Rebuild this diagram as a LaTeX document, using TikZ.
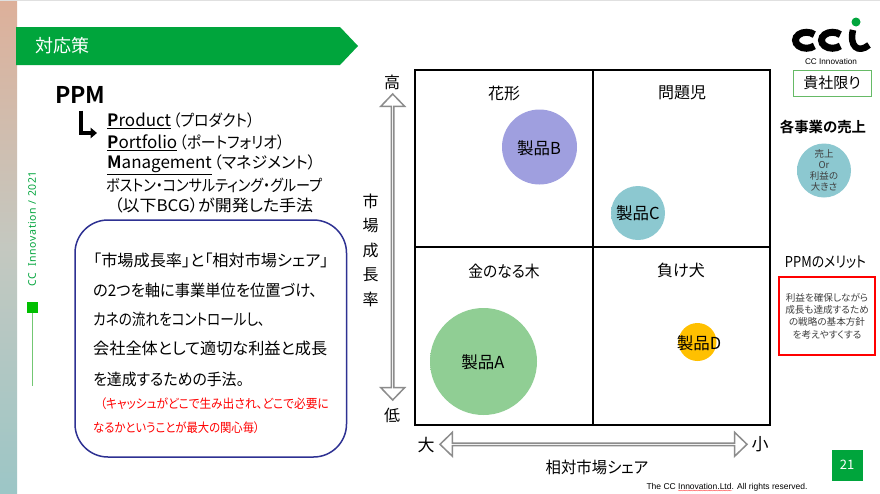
\documentclass[tikz,border=0pt]{standalone}
\usepackage{fontspec}
\setmainfont[RawFeature=+palt,BoldFont={Noto Sans CJK JP Bold}]{Noto Sans CJK JP}
\newfontfamily\footfont{Liberation Sans}
\newfontfamily\sidefont[LetterSpace=6]{Noto Sans}
\usetikzlibrary{shapes.arrows,arrows.meta,decorations.pathmorphing}

\definecolor{ccgreen}{HTML}{00A53C}
\definecolor{ccgray}{HTML}{8C8C8C}
\definecolor{ccnavy}{HTML}{2E3192}
\definecolor{bluishpurple}{HTML}{9F9FDF}
\definecolor{tealblob}{HTML}{8CC8D0}
\definecolor{greenblob}{HTML}{90CE94}
\definecolor{amberblob}{HTML}{FFC000}
\definecolor{strippeach}{HTML}{DDB09A}
\definecolor{stripgray}{HTML}{C4C8C0}
\definecolor{stripteal}{HTML}{9CC6C6}
\colorlet{blobcol}{white}
\pgfdeclareradialshading[blobcol]{softdisc}{\pgfpointorigin}{%
  color(0bp)=(blobcol); color(44bp)=(blobcol); color(49bp)=(white); color(50bp)=(white)}
\newcommand{\squeezed}[2]{\scalebox{#1}[1]{#2}}
\newcommand{\acro}[2]{\underline{\fontsize{17pt}{17pt}\selectfont\textbf{#1}#2}}

\tikzset{
  jp/.style={font=\fontsize{#1}{#1}\selectfont, inner sep=0pt},
  jp/.default=16pt,
  blob/.style={circle, draw=none, inner sep=0pt, /utils/exec={\colorlet{blobcol}{#1}}, shading=softdisc},
  blobtext/.style={font=\fontsize{16.5pt}{16.5pt}\selectfont, inner sep=0pt},
  quadrant/.style={jp=16pt},
  axisarrow/.style={double arrow, draw=ccgray, fill=white, line width=1.5pt, inner sep=0pt,
    minimum width=24pt, double arrow head extend=6.5pt, double arrow head indent=0pt,
    double arrow tip angle=88},
  textline/.style={jp=16pt, anchor=west},
  redline/.style={jp=12.6pt, anchor=west, text=red},
}

\begin{document}
\begin{tikzpicture}[x=1pt,y=-1pt]
  \useasboundingbox (0,0) rectangle (880,493);
  \fill[white] (0,0) rectangle (880,493);
  \fill[black!12] (0,0) rectangle (880,1);

  % side strip
  \shade[top color=strippeach, bottom color=stripteal, middle color=stripgray]
    (0,1) rectangle (17,493);

  % banner
  \fill[ccgreen] (16,27) -- (340,27) -- (358,46) -- (340,65) -- (16,65) -- cycle;
  \node[jp=18pt, text=white, anchor=west] (title) at (35,46) {対応策};

  % side mark
  \node[rotate=90, inner sep=0pt, text=ccgreen, font=\sidefont\fontsize{10.5pt}{10.5pt}\selectfont]
    (sidelabel) at (32,229) {CC\ \ Innovation / 2021};
  \node[fill=green!75!black, minimum size=11pt, inner sep=0pt] (sidebox) at (32,307.5) {};
  \coordinate (sideend) at (32,386);
  \draw[green!60!black!55, line width=1pt] (sidebox) -- (sideend);

  % PPM
  \node[jp=22pt, anchor=west, font=\bfseries\fontsize{23pt}{23pt}\selectfont] (ppm) at (55,95) {PPM};
  \coordinate (elbowtop) at (81,110.7);
  \coordinate (elbowtip) at (97,133);
  \draw[line width=4.5pt, -{Triangle[length=6.5pt,width=10.5pt]}] (elbowtop) |- (elbowtip);
  \node[textline] (product) at (107,121) {\acro{P}{roduct}\hspace{2pt}\squeezed{.93}{（プロダクト）}};
  \node[textline] (portfolio) at (107,143) {\acro{P}{ortfolio}\hspace{2pt}\squeezed{.93}{（ポートフォリオ）}};
  \node[textline] (management) at (107,165) {\acro{M}{anagement}\hspace{2pt}（マネジメント）};
  \node[textline] (bcgone) at (106,185) {\squeezed{.88}{ボストン・コンサルティング・グループ}};
  \node[textline] (bcgtwo) at (114,205) {\squeezed{1.06}{（以下BCG）が開発した手法}};

  % explanation box
  \draw[ccnavy, line width=1.5pt, rounded corners=33pt] (75,220) rectangle (346.5,457);
  \node[textline] (lineone) at (93,260) {\squeezed{1.01}{「市場成長率」と「相対市場シェア」}};
  \node[textline] (linetwo) at (93,290) {\squeezed{.955}{の2つを軸に事業単位を位置づけ、}};
  \node[textline] (linethree) at (93,319) {\squeezed{.85}{カネの流れをコントロールし、}};
  \node[textline] (linefour) at (93,348) {\squeezed{1.01}{会社全体として適切な利益と成長}};
  \node[textline] (linefive) at (93,379) {\squeezed{.93}{を達成するための手法。}};
  \node[redline] (redone) at (100,404) {\squeezed{.93}{（キャッシュがどこで生み出され、どこで必要に}};
  \node[redline] (redtwo) at (93,428) {\squeezed{.9}{なるかということが最大の関心毎）}};

  % matrix
  \draw[line width=2pt] (415,70) rectangle (770,425);
  \draw[line width=2pt] (593,70) -- (593,425) (415,247) -- (770,247);
  \node[quadrant] (star) at (504,93) {花形};
  \node[quadrant] (problem) at (682,93) {問題児};
  \node[quadrant] (cow) at (504,271) {\squeezed{.92}{金のなる木}};
  \node[quadrant] (dog) at (681,270) {負け犬};

  \node[blob=greenblob, minimum size=107pt] (blobA) at (483.5,361.5) {};
  \node[blobtext] (prodA) at (483,362) {製品A};
  \node[blob=bluishpurple, minimum size=75pt] (blobB) at (539.5,147) {};
  \node[blobtext] (prodB) at (539,148) {製品B};
  \node[blob=tealblob, minimum size=54pt] (blobC) at (638,213) {};
  \node[blobtext] (prodC) at (638,213) {製品C};
  \node[blob=amberblob, minimum size=38pt] (blobD) at (697.5,342) {};
  \node[blobtext] (prodD) at (699,343) {製品D};

  % axes
  \node[jp=16pt] (high) at (392,82.5) {高};
  \node[jp=16pt] (low) at (392,415) {低};
  \node[axisarrow, rotate=90, minimum height=306pt] (growth) at (392.7,247) {};
  \node[jp=16pt, align=center, text width=20pt, font=\fontsize{16pt}{24.5pt}\selectfont] (growthlabel) at (370.5,250)
    {市\\場\\成\\長\\率};
  \node[jp=17pt] (big) at (426,445) {大};
  \node[jp=17pt] (small) at (760,444) {小};
  \node[axisarrow, minimum height=307pt] (share) at (593.5,444.3) {};
  \node[jp=16pt] (sharelabel) at (597,467) {\squeezed{.96}{相対市場シェア}};

  % right column
  \node[draw=green!55!black!60, line width=1pt, jp=15pt, minimum width=78pt, minimum height=26pt] (limited) at (832,83) {貴社限り};
  \node[font=\bfseries\fontsize{14.4pt}{14.4pt}\selectfont, inner sep=0pt] (salestitle) at (823,127) {各事業の売上};
  \node[blob=tealblob, minimum size=54pt] (legend) at (824,170.5) {};
  \node[align=center, inner sep=0pt, text=black!75, font=\fontsize{9.5pt}{11pt}\selectfont] (legendtext) at (824,170.5)
    {売上\\Or\\利益の\\大きさ};
  \node[jp=15pt] (merit) at (825.5,262.5) {\squeezed{.86}{PPMのメリット}};
  \node[draw=red, line width=1.5pt, inner sep=0pt, minimum width=96pt, minimum height=78pt,
    align=center, text=black!75, font=\fontsize{9.6pt}{12.3pt}\selectfont] (meritbox) at (827,316)
    {利益を確保しながら\\成長も達成するため\\の戦略の基本方針\\を考えやすくする};

  % footer
  \node[fill=ccgreen, minimum size=31pt, inner sep=0pt, text=white, font=\fontsize{13pt}{13pt}\selectfont] (pagenum) at (847,465) {21};
  \node[inner sep=0pt, font=\footfont\fontsize{8.5pt}{8.5pt}\selectfont] (footer) at (727,487)
    {The CC Innovation.Ltd. All rights reserved.};
  \coordinate (waveleft) at (678,490.5);
  \coordinate (waveright) at (732,490.5);
  \draw[red!70, line width=.4pt, decorate, decoration={snake,amplitude=.4pt,segment length=2.5pt}] (waveleft) -- (waveright);

  % logo
  \draw[line width=7pt] (814.3,34.6) arc[start angle=45,end angle=315,x radius=11pt,y radius=8pt];
  \draw[line width=7pt] (840.3,34.6) arc[start angle=45,end angle=315,x radius=11pt,y radius=8pt];
  \draw[line width=6.5pt] (853,30) .. controls (849,46) and (858,54) .. (869,45);
  \fill[ccgreen] (856,22) circle (4.5);
  \node[inner sep=0pt, font=\footfont\fontsize{8.2pt}{8.2pt}\selectfont] (logotext) at (831,62) {CC Innovation};
\end{tikzpicture}
\end{document}
